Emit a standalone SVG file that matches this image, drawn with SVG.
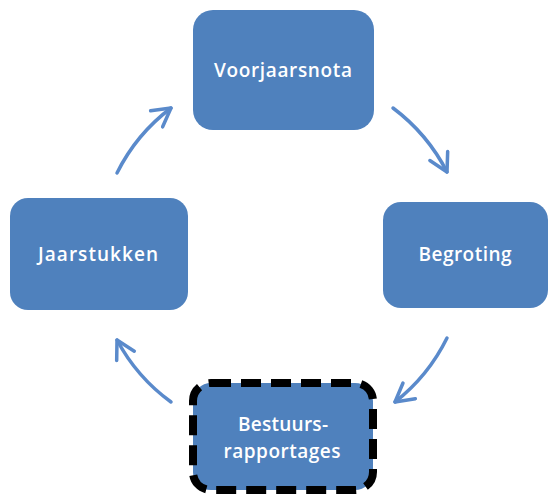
<svg xmlns="http://www.w3.org/2000/svg" width="550" height="495" viewBox="0 0 550 495">
<style>
.box{fill:#4F81BD;}
.lbl{font-family:"Open Sans","Liberation Sans",sans-serif;font-size:19px;font-weight:600;fill:#ffffff;text-anchor:middle;}
.arc{fill:none;stroke:#5A8ACB;stroke-width:3.5;stroke-linecap:round;}
</style>
<defs>
<marker id="chev" markerUnits="userSpaceOnUse" markerWidth="26" markerHeight="26" refX="20" refY="12" orient="auto">
<path d="M2,2 L20,12 L2,22" fill="none" stroke="#5A8ACB" stroke-width="3.5" stroke-linecap="round" stroke-linejoin="round"/>
</marker>
</defs>
<rect width="550" height="495" fill="#ffffff"/>
<g id="connectors">
<path class="arc" d="M393,108 A186,186 0 0 1 447,172" marker-end="url(#chev)"/>
<path class="arc" d="M447,338 A186,186 0 0 1 395,402" marker-end="url(#chev)"/>
<path class="arc" d="M171,402 A184,184 0 0 1 117,340" marker-end="url(#chev)"/>
<path class="arc" d="M117,173 A184,184 0 0 1 171,108" marker-end="url(#chev)"/>
</g>
<g id="voorjaarsnota">
<rect class="box" x="193" y="10" width="181" height="120" rx="20"/>
<text class="lbl" x="283" y="77" textLength="138" lengthAdjust="spacing">Voorjaarsnota</text>
</g>
<g id="begroting">
<rect class="box" x="383" y="202" width="165" height="106" rx="18"/>
<text class="lbl" x="465" y="261" textLength="93" lengthAdjust="spacing">Begroting</text>
</g>
<g id="bestuursrapportages">
<rect class="box" x="193" y="383" width="180" height="107" rx="18" stroke="#000000" stroke-width="8" stroke-dasharray="20 10"/>
<text class="lbl" x="283" y="431" textLength="90" lengthAdjust="spacing">Bestuurs-</text>
<text class="lbl" x="282" y="458" textLength="117" lengthAdjust="spacing">rapportages</text>
</g>
<g id="jaarstukken">
<rect class="box" x="10" y="198" width="178" height="112" rx="18"/>
<text class="lbl" x="98" y="261" textLength="120" lengthAdjust="spacing" font-weight="700">Jaarstukken</text>
</g>
</svg>
